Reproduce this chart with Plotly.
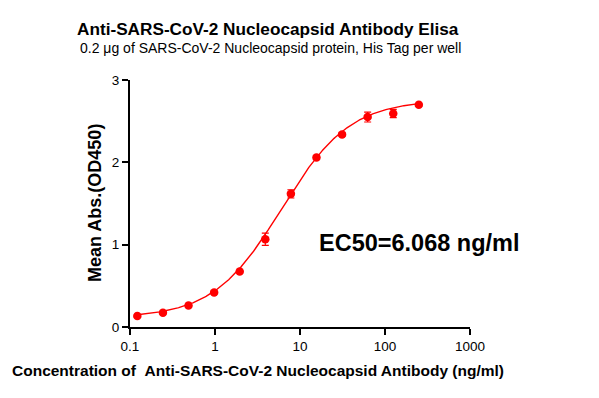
import numpy as np
import plotly.graph_objects as go

conc = [0.122, 0.244, 0.488, 0.977, 1.953, 3.906, 7.813, 15.625, 31.25, 62.5, 125, 250]
od450 = [0.134, 0.174, 0.26, 0.42, 0.673, 1.066, 1.617, 2.059, 2.339, 2.55, 2.594, 2.70]
od_err = [0.01, 0.01, 0.012, 0.015, 0.015, 0.075, 0.05, 0.02, 0.02, 0.06, 0.05, 0.015]

# four-parameter logistic fit parameters
fit_bottom = 0.11
fit_top = 2.76
fit_ec50 = 6.068
fit_hill = 1.08

xticks = [0.1, 1, 10, 100, 1000]
xticklabels = ["0.1", "1", "10", "100", "1000"]
yticks = [0, 1, 2, 3]

xc = np.logspace(np.log10(conc[0]), np.log10(conc[-1]), 300)
yc = fit_bottom + (fit_top - fit_bottom) / (1 + (fit_ec50 / xc) ** fit_hill)

# page offset compensation (body margin)
OX, OY = 8, 8
L, R, T, B = 130 - OX, 470 - OX, 80 - OY, 327 - OY
W, H = 599, 398

red = "#ff0000"
fig = go.Figure()
fig.add_trace(go.Scatter(x=xc, y=yc, mode="lines", line=dict(color=red, width=1.4),
                         hoverinfo="skip", showlegend=False))
fig.add_trace(go.Scatter(x=conc, y=od450, mode="markers",
                         marker=dict(color=red, size=8.5),
                         error_y=dict(type="data", array=od_err, color=red, thickness=1.2, width=3.5),
                         showlegend=False))

pw, ph = R - L, B - T
def px(x):
    return (x - OX - L) / pw
def py(y):
    return (B - (y - OY)) / ph

font = "Arial, Liberation Sans, sans-serif"
fig.update_layout(
    width=W, height=H, autosize=False,
    margin=dict(l=L, r=W - R, t=T, b=H - B),
    paper_bgcolor="white", plot_bgcolor="white",
    font=dict(family=font, color="black", size=13),
    xaxis=dict(type="log", range=[-1, 3], tickvals=xticks, ticktext=xticklabels,
               showgrid=False, zeroline=False, showline=True, linecolor="black", linewidth=2,
               ticks="outside", ticklen=6, tickwidth=2, tickcolor="black",
               tickfont=dict(size=13.5)),
    yaxis=dict(range=[0, 3], tickvals=yticks, showgrid=False, zeroline=False,
               showline=True, linecolor="black", linewidth=2,
               ticks="outside", ticklen=6, tickwidth=2, tickcolor="black",
               tickfont=dict(size=13.5)),
    annotations=[
        dict(text="<b>Anti-SARS-CoV-2 Nucleocapsid Antibody Elisa</b>", xref="paper", yref="paper",
             x=px(268), y=py(29), xanchor="center", yanchor="middle",
             showarrow=False, font=dict(size=17.2)),
        dict(text="0.2 μg of SARS-CoV-2 Nucleocapsid protein, His Tag per well", xref="paper", yref="paper",
             x=px(270), y=py(48), xanchor="center", yanchor="middle",
             showarrow=False, font=dict(size=14)),
        dict(text="<b>Concentration of \u00a0Anti-SARS-CoV-2 Nucleocapsid Antibody (ng/ml)</b>",
             xref="paper", yref="paper",
             x=px(258), y=py(370), xanchor="center", yanchor="middle",
             showarrow=False, font=dict(size=15.5)),
        dict(text="<b>Mean Abs.(OD450)</b>", xref="paper", yref="paper",
             x=px(95), y=py(203), xanchor="center", yanchor="middle", textangle=-90,
             showarrow=False, font=dict(size=18)),
        dict(text="<b>EC50=6.068 ng/ml</b>", xref="paper", yref="paper",
             x=px(317), y=py(243), xanchor="left", yanchor="middle",
             showarrow=False, font=dict(size=23.5)),
    ],
)
fig.write_html("out.html")
